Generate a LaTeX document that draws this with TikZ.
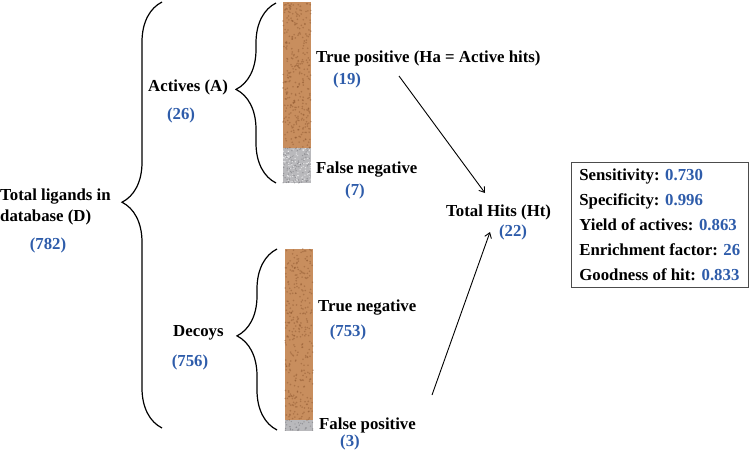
\documentclass[tikz,border=0pt]{standalone}
\usepackage{fontspec}
\setmainfont{Liberation Serif}
\usetikzlibrary{arrows.meta,decorations.pathreplacing,positioning}

\definecolor{numblue}{RGB}{46,92,170}
\definecolor{cork}{RGB}{200,142,94}
\definecolor{corkdark}{RGB}{140,85,45}
\definecolor{grit}{RGB}{185,185,188}
\definecolor{gritdark}{RGB}{120,120,125}

\begin{document}
\begin{tikzpicture}[
    x=1pt, y=-1pt,
    font=\fontsize{16.8}{19}\selectfont\bfseries,
    label/.style={inner sep=0pt, anchor=west},
    count/.style={inner sep=0pt, text=numblue},
    bracket/.style={draw, line width=1.2pt, decorate, decoration={brace, amplitude=40pt, aspect=#1}},
    line/.style={draw, -{Straight Barb[length=5pt, width=7pt]}, line width=0.9pt}
]
    \useasboundingbox (0,0) rectangle (749,453);

    % Bars
    \fill[cork] (283,2) rectangle (311,148);
    \fill[grit] (283,148) rectangle (311,183);
    \fill[cork] (285,249) rectangle (313,420);
    \fill[grit] (285,420) rectangle (313,431);
    \pgfmathsetseed{7}
    \foreach \k in {1,...,320} {
        \fill[corkdark, opacity=0.45] ({283+28*rnd},{2+146*rnd}) circle (0.9);
        \fill[corkdark, opacity=0.45] ({285+28*rnd},{249+171*rnd}) circle (0.9);
    }
    \foreach \k in {1,...,90} {
        \fill[gritdark, opacity=0.6] ({283+28*rnd},{148+35*rnd}) circle (0.7);
        \fill[white, opacity=0.6] ({283+28*rnd},{148+35*rnd}) circle (0.7);
    }
    \foreach \k in {1,...,30} {
        \fill[gritdark, opacity=0.6] ({285+28*rnd},{420+11*rnd}) circle (0.7);
    }

    % Braces
    \draw[bracket=0.53] (162,428) -- (162,2);
    \draw[bracket=0.52] (276,183) -- (276,3);
    \draw[bracket=0.52] (277,430) -- (277,249);

    % Nodes
    \node[label, align=left, font=\fontsize{16.8}{21}\selectfont\bfseries] (total) at (0,207) {Total ligands in\\database (D)};
    \node[count] (totalnum) at (48,245) {(782)};
    \node[label] (actives) at (148,87) {Actives (A)};
    \node[count] (activesnum) at (181,115) {(26)};
    \node[label] (tp) at (316,58) {True positive (Ha = Active hits)};
    \node[count] (tpnum) at (347,80) {(19)};
    \node[label] (fn) at (316,170) {False negative};
    \node[count] (fnnum) at (355,191) {(7)};
    \node[label] (decoys) at (173,333) {Decoys};
    \node[count] (decoysnum) at (190,362) {(756)};
    \node[label] (tn) at (318,308) {True negative};
    \node[count] (tnnum) at (348,332) {(753)};
    \node[label] (fp) at (319,425) {False positive};
    \node[count] (fpnum) at (350,442) {(3)};
    \node[label] (hits) at (446,212) {Total Hits (Ht)};
    \node[count] (hitsnum) at (513,232) {(22)};
    \node[draw=black!70, semithick, anchor=north west, align=left, minimum width=177pt, minimum height=125pt,
          font=\fontsize{16.8}{25}\selectfont\bfseries] (metrics) at (571,162)
        {Sensitivity: \textcolor{numblue}{0.730}\\
         Specificity: \textcolor{numblue}{0.996}\\
         Yield of actives: \textcolor{numblue}{0.863}\\
         Enrichment factor: \textcolor{numblue}{26}\\
         Goodness of hit: \textcolor{numblue}{0.833}};

    % Edges
    \coordinate (tpout) at (399,76);
    \coordinate (hitsin) at (485,193);
    \coordinate (fpout) at (432,395);
    \coordinate (hitsup) at (490,232);
    \path[line] (tpout) -- (hitsin);
    \path[line] (fpout) -- (hitsup);
\end{tikzpicture}
\end{document}
